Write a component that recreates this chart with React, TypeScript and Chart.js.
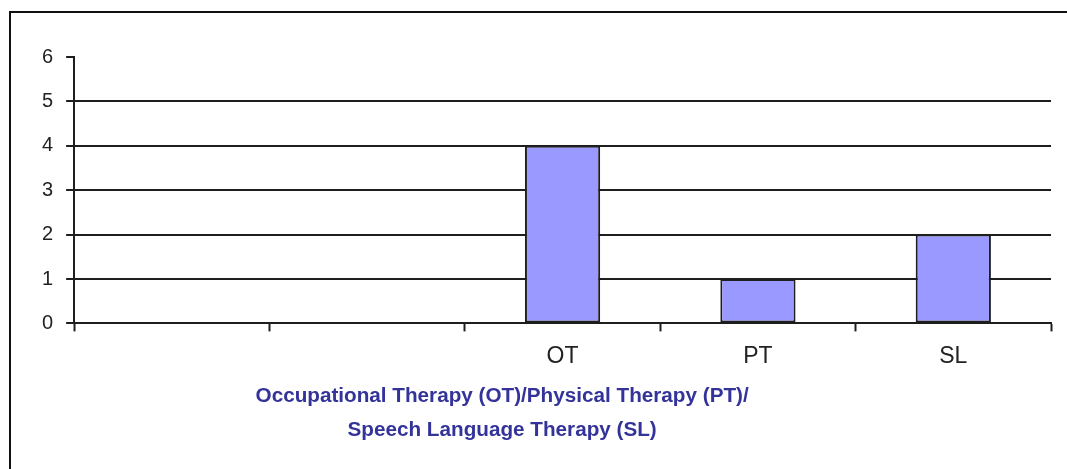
import React, { useEffect, useRef } from "react";
import { Chart, registerables } from "chart.js";

Chart.register(...registerables);

const categories: string[] = ["", "", "OT", "PT", "SL"];
const therapyCounts: (number | null)[] = [null, null, 4, 1, 2];
const yTickValues: number[] = [0, 1, 2, 3, 4, 5, 6];
const axisTitleLines: string[] = [
  "Occupational Therapy (OT)/Physical Therapy (PT)/",
  "Speech Language Therapy (SL)",
];

const FONT = "Arial, 'Liberation Sans', sans-serif";
const LINE = "#1e1e1e";

const axisTitlePlugin = {
  id: "axisTitleLeft",
  afterDraw(chart: any) {
    const { ctx, chartArea } = chart;
    ctx.save();
    ctx.fillStyle = "#333399";
    ctx.font = `bold 20.7px ${FONT}`;
    ctx.textAlign = "center";
    ctx.textBaseline = "middle";
    const cx = chartArea.left + 428;
    ctx.fillText(axisTitleLines[0], cx, chartArea.bottom + 73);
    ctx.fillText(axisTitleLines[1], cx, chartArea.bottom + 107);
    ctx.restore();
  },
};

export default function App() {
  const canvasRef = useRef<HTMLCanvasElement | null>(null);

  useEffect(() => {
    if (!canvasRef.current) return;
    const chart = new Chart(canvasRef.current, {
      type: "bar",
      data: {
        labels: categories,
        datasets: [
          {
            data: therapyCounts,
            backgroundColor: "#9999ff",
            borderColor: LINE,
            borderWidth: 2,
            borderSkipped: false,
            barPercentage: 0.385,
            categoryPercentage: 1,
          },
        ],
      },
      plugins: [axisTitlePlugin],
      options: {
        animation: false,
        responsive: true,
        maintainAspectRatio: false,
        layout: { padding: { left: 18, top: 44, right: 56, bottom: 108 } },
        plugins: {
          legend: { display: false },
          tooltip: { enabled: false },
          title: { display: false },
        },
        scales: {
          x: {
            offset: true,
            grid: {
              offset: true,
              drawOnChartArea: false,
              drawTicks: true,
              tickLength: 8,
              tickColor: LINE,
              tickWidth: 2,
            },
            border: { display: true, color: LINE, width: 2 },
            ticks: {
              color: "#222",
              font: { family: FONT, size: 23 },
              padding: 11,
              maxRotation: 0,
              autoSkip: false,
            },
          },
          y: {
            min: 0,
            max: 6,
            afterBuildTicks: (scale: any) => {
              scale.ticks = yTickValues.map((v) => ({ value: v }));
            },
            grid: {
              color: (c: any) => (c.tick && c.tick.value === 6 ? "rgba(0,0,0,0)" : LINE),
              lineWidth: 2,
              tickLength: 8,
              tickColor: LINE,
              tickWidth: 2,
            },
            border: { display: true, color: LINE, width: 2 },
            ticks: {
              color: "#222",
              font: { family: FONT, size: 20 },
              padding: 13,
            },
          },
        },
      },
    });
    return () => chart.destroy();
  }, []);

  return (
    <div
      style={{
        position: "fixed",
        left: 0,
        top: 0,
        width: 1067,
        height: 469,
        overflow: "hidden",
        background: "#fff",
      }}
    >
      <div
        style={{
          position: "absolute",
          left: 9,
          top: 11,
          width: 1100,
          height: 480,
          border: "2px solid #111",
          boxSizing: "border-box",
          background: "#fff",
        }}
      >
        <div style={{ position: "relative", width: 1096, height: 476 }}>
          <canvas ref={canvasRef} />
        </div>
      </div>
    </div>
  );
}
